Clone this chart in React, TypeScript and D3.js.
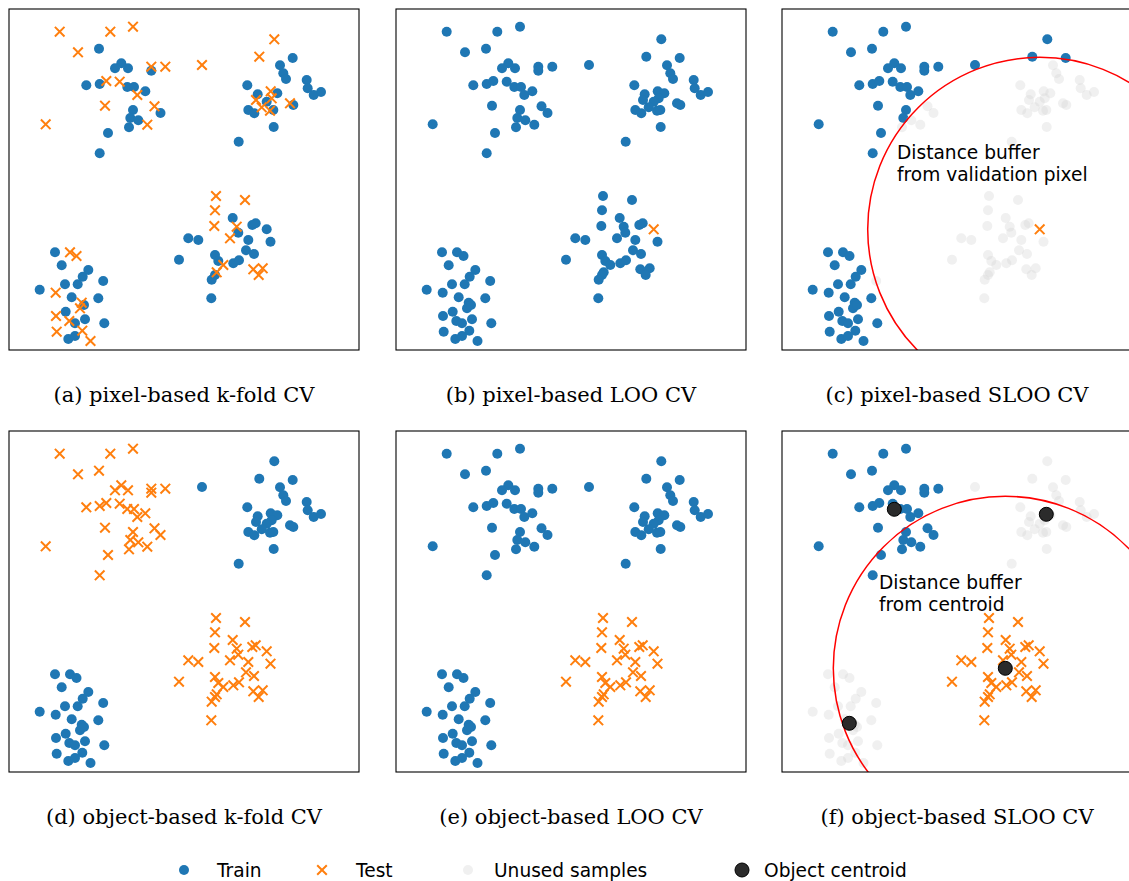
import React from "react";
import * as d3 from "d3";

// Sample positions (data units), per object cluster: [x, y, testInPixelKFold]
const clusterTopLeft: [number, number, number][] = [
  [50.7, 22.7, 1], [101.3, 22.7, 1], [124, 17.7, 1], [69, 43.3, 1], [90, 39.7, 0],
  [112.3, 54.3, 0], [106, 59.3, 0], [119, 59.3, 0], [142.3, 57.7, 1], [142.3, 61.7, 0],
  [156.3, 57.7, 1], [77.3, 76.3, 0], [90.7, 75, 0], [97.3, 72, 1], [110.7, 72.7, 1],
  [118.3, 78, 0], [125, 78, 0], [128.3, 86, 1], [136.3, 82.3, 0], [96, 96.7, 1],
  [124, 101, 0], [121.3, 109, 0], [129.3, 111.3, 0], [138.3, 115.7, 1], [120, 118.3, 0],
  [145.5, 97.3, 1], [151.5, 104, 0], [36.7, 115.3, 1], [99, 124, 0], [90.7, 144.3, 0],
];
const clusterTopRight: [number, number, number][] = [
  [193, 56, 1],
  [265.3, 30.3, 1], [250.3, 47.7, 1], [283.7, 49, 0], [271, 56.3, 0], [274.3, 64.3, 0],
  [277, 70, 0], [297.7, 71, 0], [298.7, 79.3, 0], [304.7, 86, 0], [312, 83, 0],
  [238.3, 76.3, 0], [248.7, 85.3, 0], [247, 91, 1], [261.7, 82.3, 1], [268.3, 84.3, 0],
  [262.7, 89.3, 1], [257.7, 92.7, 0], [252.7, 98.3, 1], [239.3, 101, 0], [245.3, 104.3, 0],
  [261, 101.7, 1], [264.3, 101, 0], [281, 94.3, 1], [284.3, 96, 0], [264.7, 118, 0],
  [229.7, 132.7, 0],
];
const clusterMiddle: [number, number, number][] = [
  [207, 187, 1], [236, 191, 1], [206, 201.3, 1], [205.3, 217, 1], [223.7, 209, 0],
  [227.7, 217.7, 1], [229.3, 223.7, 0], [243.3, 216, 0], [246.7, 214.3, 0], [221, 229.3, 1],
  [239.3, 231, 0], [179.3, 229.3, 0], [189.3, 231, 0], [261.5, 232.7, 0], [170, 250.7, 0],
  [206, 246, 0], [209.3, 252, 0], [214.3, 256, 1], [224.3, 254.3, 0], [230, 251.3, 0],
  [237, 241.3, 0], [245, 245, 0], [207.7, 263.3, 1], [206, 266, 0], [202.7, 270.7, 0],
  [244.3, 260.3, 1], [253.7, 259.3, 1], [249.7, 266, 1], [202.3, 289.3, 0],
  [257.7, 220.3, 0],
];
const clusterBottomLeft: [number, number, number][] = [
  [46, 243.3, 0], [61, 243.3, 1], [67.5, 247, 1], [52.7, 256.3, 0], [79.3, 261, 0],
  [73.7, 267.7, 0], [94.2, 272, 0], [56, 275.3, 0], [68.7, 275.3, 0], [30.7, 280.7, 0],
  [46.7, 283.7, 1], [62.7, 288.3, 0], [89.3, 289.3, 0], [72.7, 293.7, 1], [71, 299.3, 1],
  [75, 296, 0], [56.7, 302.7, 0], [47, 307, 1], [76, 310.3, 0], [60.3, 312, 1],
  [66, 314.3, 0], [95.3, 314.3, 0], [47.7, 322.7, 1], [73.3, 321.7, 1], [59.3, 330, 0],
  [66, 327, 0], [81.5, 332, 1],
];
const clusterNames = ["topLeft", "topRight", "middle", "bottomLeft"];
// Object centroids (data units), same order as clusterNames
const centroidX = [112.3, 264.3, 223.3, 67.3];
const centroidY = [78.3, 83.3, 237.3, 292.3];
// Validation pixel used for LOO / SLOO
const validationPixel: [number, number] = [257.7, 220.3];
const bufferRadius = 172;
const xDomain: [number, number] = [0, 350];
const yDomain: [number, number] = [0, 341];

const captions = [
  "(a) pixel-based k-fold CV",
  "(b) pixel-based LOO CV",
  "(c) pixel-based SLOO CV",
  "(d) object-based k-fold CV",
  "(e) object-based LOO CV",
  "(f) object-based SLOO CV",
];
const legendLabels = ["Train", "Test", "Unused samples", "Object centroid"];

const BLUE = "#1f77b4";
const ORANGE = "#ff7f0e";

type Pt = { x: number; y: number; c: number; kf: number };
const points: Pt[] = [clusterTopLeft, clusterTopRight, clusterMiddle, clusterBottomLeft].flatMap(
  (cl, ci) => cl.map(([x, y, kf]) => ({ x, y, c: ci, kf }))
);

const isVal = (p: Pt) => p.x === validationPixel[0] && p.y === validationPixel[1];

function labelFor(panel: number, p: Pt): "train" | "test" | "unused" {
  const mid = clusterNames.indexOf("middle");
  const tl = clusterNames.indexOf("topLeft");
  if (panel === 0) return p.kf ? "test" : "train";
  if (panel === 1) return isVal(p) ? "test" : "train";
  if (panel === 2) {
    if (isVal(p)) return "test";
    const d = Math.hypot(p.x - validationPixel[0], p.y - validationPixel[1]);
    return d < bufferRadius ? "unused" : "train";
  }
  if (panel === 3) return p.c === mid || p.c === tl ? "test" : "train";
  if (panel === 4) return p.c === mid ? "test" : "train";
  if (p.c === mid) return "test";
  const d = Math.hypot(centroidX[p.c] - centroidX[mid], centroidY[p.c] - centroidY[mid]);
  return d < bufferRadius ? "unused" : "train";
}

const PW = 350;
const PH = 341;
const panelX = [9, 396, 782];
const panelY = [9, 431];
const DOT_R = 5;
const SANS = "DejaVu Sans";
const SANS_SIZE = 18.6;

const Cross = ({ x, y, s = 4.8 }: { x: number; y: number; s?: number }) => (
  <path
    d={`M${x - s},${y - s}L${x + s},${y + s}M${x - s},${y + s}L${x + s},${y - s}`}
    stroke={ORANGE}
    strokeWidth={2}
    fill="none"
  />
);

function Panel({ idx }: { idx: number }) {
  const ox = panelX[idx % 3];
  const oy = panelY[Math.floor(idx / 3)];
  const xs = d3.scaleLinear().domain(xDomain).range([ox, ox + PW]);
  const ys = d3.scaleLinear().domain(yDomain).range([oy, oy + PH]);
  const kx = xs(1) - xs(0);
  const labeled = points.map((p) => ({ p, l: labelFor(idx, p) }));
  const clipId = `clip${idx}`;
  const mid = clusterNames.indexOf("middle");
  return (
    <g>
      <defs>
        <clipPath id={clipId}>
          <rect x={ox} y={oy} width={PW} height={PH} />
        </clipPath>
      </defs>
      <g clipPath={`url(#${clipId})`}>
        {labeled.filter((d) => d.l === "train").map((d, i) => (
          <circle key={"t" + i} cx={xs(d.p.x)} cy={ys(d.p.y)} r={DOT_R} fill={BLUE} />
        ))}
        {labeled.filter((d) => d.l === "unused").map((d, i) => (
          <circle key={"u" + i} cx={xs(d.p.x)} cy={ys(d.p.y)} r={DOT_R} fill="#d3d3d3" fillOpacity={0.35} />
        ))}
        {labeled.filter((d) => d.l === "test").map((d, i) => (
          <Cross key={"x" + i} x={xs(d.p.x)} y={ys(d.p.y)} />
        ))}
        {idx === 2 && (
          <circle
            cx={xs(validationPixel[0])}
            cy={ys(validationPixel[1])}
            r={bufferRadius * kx}
            fill="none"
            stroke="red"
            strokeWidth={1.5}
          />
        )}
        {idx === 5 && (
          <>
            <circle
              cx={xs(centroidX[mid])}
              cy={ys(centroidY[mid])}
              r={bufferRadius * kx}
              fill="none"
              stroke="red"
              strokeWidth={1.5}
            />
            {centroidX.map((cx, i) => (
              <circle key={"c" + i} cx={xs(cx)} cy={ys(centroidY[i])} r={7} fill="#2b2b2b" stroke="#000" strokeWidth={1} />
            ))}
          </>
        )}
      </g>
      {idx === 2 && (
        <text x={897} y={159} fontFamily={SANS} fontSize={SANS_SIZE} fill="#000">
          <tspan x={897}>Distance buffer</tspan>
          <tspan x={897} dy={21.5}>from validation pixel</tspan>
        </text>
      )}
      {idx === 5 && (
        <text x={879} y={589} fontFamily={SANS} fontSize={SANS_SIZE} fill="#000">
          <tspan x={879}>Distance buffer</tspan>
          <tspan x={879} dy={21.5}>from centroid</tspan>
        </text>
      )}
      <rect x={ox} y={oy} width={PW} height={PH} fill="none" stroke="#000" strokeWidth={1.1} />
      <text
        x={ox + PW / 2}
        y={oy + PH + 52}
        textAnchor="middle"
        fontFamily="DejaVu Serif"
        fontSize={21}
        fill="#000"
      >
        {captions[idx]}
      </text>
    </g>
  );
}

export default function App() {
  const ly = 870;
  const legendX = [184, 322, 468, 742];
  const textX = [217, 356, 494, 764];
  return (
    <svg
      width={1129}
      height={881}
      style={{ position: "absolute", left: 0, top: 0, background: "#fff" }}
    >
      <rect x={0} y={0} width={1129} height={881} fill="#fff" />
      {captions.map((_, i) => (
        <Panel key={i} idx={i} />
      ))}
      <circle cx={legendX[0]} cy={ly} r={DOT_R} fill={BLUE} />
      <Cross x={legendX[1]} y={ly} />
      <circle cx={legendX[2]} cy={ly} r={DOT_R} fill="#d3d3d3" fillOpacity={0.35} />
      <circle cx={legendX[3]} cy={ly} r={7} fill="#2b2b2b" stroke="#000" strokeWidth={1} />
      {legendLabels.map((t, i) => (
        <text key={t} x={textX[i]} y={ly + 6.5} fontFamily={SANS} fontSize={SANS_SIZE} fill="#000">
          {t}
        </text>
      ))}
    </svg>
  );
}
